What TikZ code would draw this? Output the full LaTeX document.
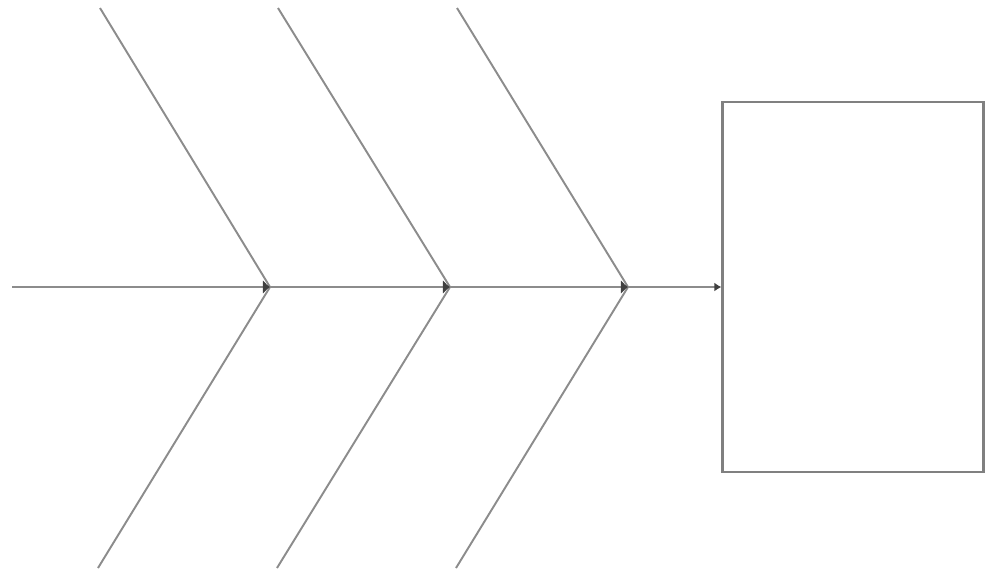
\documentclass[tikz,border=0pt]{standalone}
\usetikzlibrary{arrows.meta}
\tikzset{bone/.style={draw=black!45, line width=1.1pt},
  spine/.style={bone, -{Latex[length=4pt,width=8pt,black!75]}},
  lastspine/.style={bone, -{Latex[length=4pt,width=5pt,black!75]}}}
\begin{document}
\begin{tikzpicture}[x=0.02cm,y=-0.02cm]
  \useasboundingbox (0,0) rectangle (986,572);
  \coordinate (tail) at (12,287); \coordinate (j1) at (270,287); \coordinate (j2) at (450,287); \coordinate (j3) at (628,287);
  \coordinate (t1) at (100,8); \coordinate (t2) at (278,8); \coordinate (t3) at (457,8);
  \coordinate (b1) at (98,568); \coordinate (b2) at (277,568); \coordinate (b3) at (456,568);
  \node[draw=black!50, line width=1.2pt, minimum width=5.22cm, minimum height=7.4cm, inner sep=0pt] (effect) at (853,287) {};
  \draw[bone] (t1) -- (j1) -- (b1); \draw[bone] (t2) -- (j2) -- (b2); \draw[bone] (t3) -- (j3) -- (b3);
  \draw[spine] (tail) -- (j1); \draw[spine] (j1) -- (j2); \draw[spine] (j2) -- (j3); \draw[lastspine] (j3) -- (effect.west);
\end{tikzpicture}
\end{document}
